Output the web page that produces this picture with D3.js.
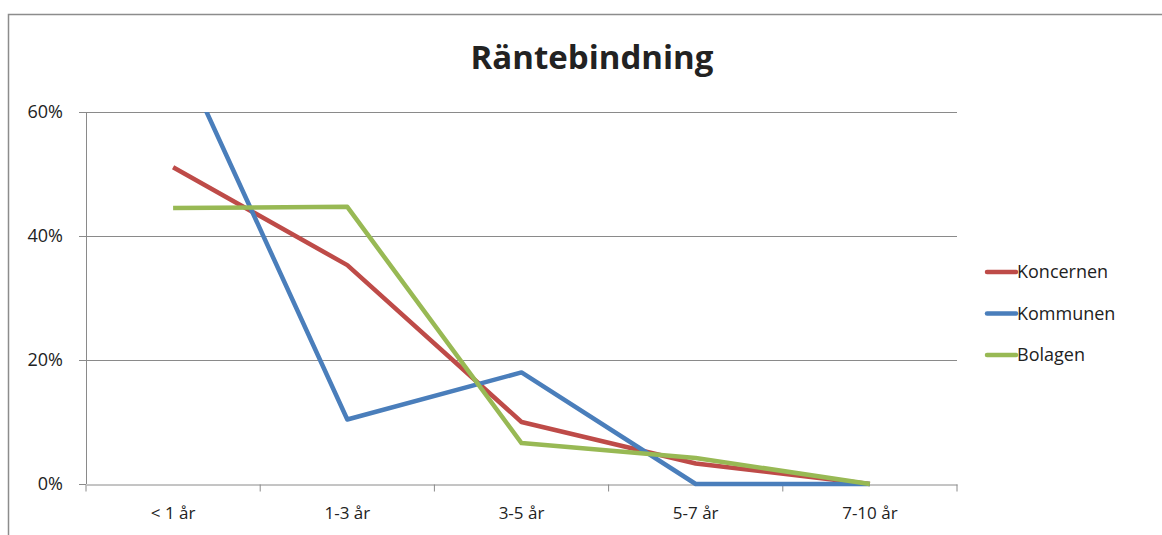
<!DOCTYPE html>
<html>
<head>
<meta charset="utf-8">
<script src="https://d3js.org/d3.v7.min.js"></script>
<style>
  body { margin:0; background:#fff; }
  svg text { font-family: "Open Sans", "Noto Sans", sans-serif; fill:#222; }
</style>
</head>
<body>
<script>
var categories = ["< 1 år", "1-3 år", "3-5 år", "5-7 år", "7-10 år"];
var seriesNames = ["Koncernen", "Kommunen", "Bolagen"];
var koncernen = [0.511, 0.353, 0.100, 0.033, 0.0];
var kommunen  = [0.718, 0.104, 0.180, 0.0, 0.0];
var bolagen   = [0.445, 0.447, 0.066, 0.042, 0.0];
var colors = ["#BE4B48", "#4A7EBB", "#98B954"];
var yTicks = [0, 0.2, 0.4, 0.6];

var width = 1162, height = 535;
var margin = {left: 86, right: 205, top: 112, bottom: 51};

var svg = d3.select("body").append("svg")
    .attr("width", width)
    .attr("height", height);

// outer chart frame
svg.append("path")
    .attr("d", "M8.5," + height + "V14.5H" + width)
    .attr("fill", "none")
    .attr("stroke", "#8c8c8c")
    .attr("stroke-width", 1.5);

var x = d3.scaleBand()
    .domain(categories)
    .range([margin.left, width - margin.right]);

var y = d3.scaleLinear()
    .domain([0, 0.6])
    .range([height - margin.bottom, margin.top]);

// gridlines
svg.append("g")
    .selectAll("line")
    .data(yTicks.filter(function (d) { return d > 0; }))
    .enter().append("line")
    .attr("x1", margin.left).attr("x2", width - margin.right)
    .attr("y1", function (d) { return Math.round(y(d)) + 0.5; })
    .attr("y2", function (d) { return Math.round(y(d)) + 0.5; })
    .attr("stroke", "#8a8a8a");

// y axis
var yAxis = svg.append("g")
    .attr("transform", "translate(" + margin.left + ",0)")
    .call(d3.axisLeft(y).tickValues(yTicks).tickFormat(d3.format(".0%")).tickSize(7).tickPadding(16));
yAxis.selectAll("line, path").attr("stroke", "#8a8a8a");
yAxis.select(".domain").attr("d", "M0.5," + y(0) + "V" + y(0.6));
yAxis.selectAll("text").style("font-size", "18px").attr("fill", "#222");

// x axis
var xAxis = svg.append("g")
    .attr("transform", "translate(0," + (Math.round(y(0)) + 0.5) + ")")
    .call(d3.axisBottom(x).tickSize(0).tickPadding(22));
xAxis.select(".domain").attr("stroke", "#8a8a8a");
xAxis.selectAll("text").style("font-size", "17px").attr("fill", "#222");
// boundary ticks between categories
xAxis.selectAll(".bound")
    .data(d3.range(categories.length + 1))
    .enter().append("line")
    .attr("class", "bound")
    .attr("x1", function (i) { return margin.left + i * x.step(); })
    .attr("x2", function (i) { return margin.left + i * x.step(); })
    .attr("y1", 0).attr("y2", 7)
    .attr("stroke", "#8a8a8a");

// clip for plot area
svg.append("clipPath").attr("id", "plot")
    .append("rect")
    .attr("x", margin.left).attr("y", y(0.6))
    .attr("width", width - margin.right - margin.left)
    .attr("height", y(0) - y(0.6) + 4);

var line = d3.line()
    .x(function (d, i) { return x(categories[i]) + x.bandwidth() / 2; })
    .y(function (d) { return y(d); });

var allSeries = [koncernen, kommunen, bolagen];
svg.append("g")
    .attr("clip-path", "url(#plot)")
    .selectAll("path")
    .data(allSeries)
    .enter().append("path")
    .attr("d", line)
    .attr("fill", "none")
    .attr("stroke", function (d, i) { return colors[i]; })
    .attr("stroke-width", 4.5)
    .attr("stroke-linejoin", "round");

// title
svg.append("text")
    .attr("x", 592).attr("y", 69)
    .attr("text-anchor", "middle")
    .style("font-size", "33px")
    .style("font-weight", "bold")
    .text("Räntebindning");

// legend
var legend = svg.append("g").selectAll("g")
    .data(seriesNames)
    .enter().append("g")
    .attr("transform", function (d, i) { return "translate(987," + (272 + i * 41.5) + ")"; });
legend.append("line")
    .attr("x1", 0).attr("x2", 29)
    .attr("stroke", function (d, i) { return colors[i]; })
    .attr("stroke-width", 4.5)
    .attr("stroke-linecap", "round");
legend.append("text")
    .attr("x", 30).attr("dy", "0.35em")
    .style("font-size", "18px")
    .text(function (d) { return d; });
</script>
</body>
</html>
